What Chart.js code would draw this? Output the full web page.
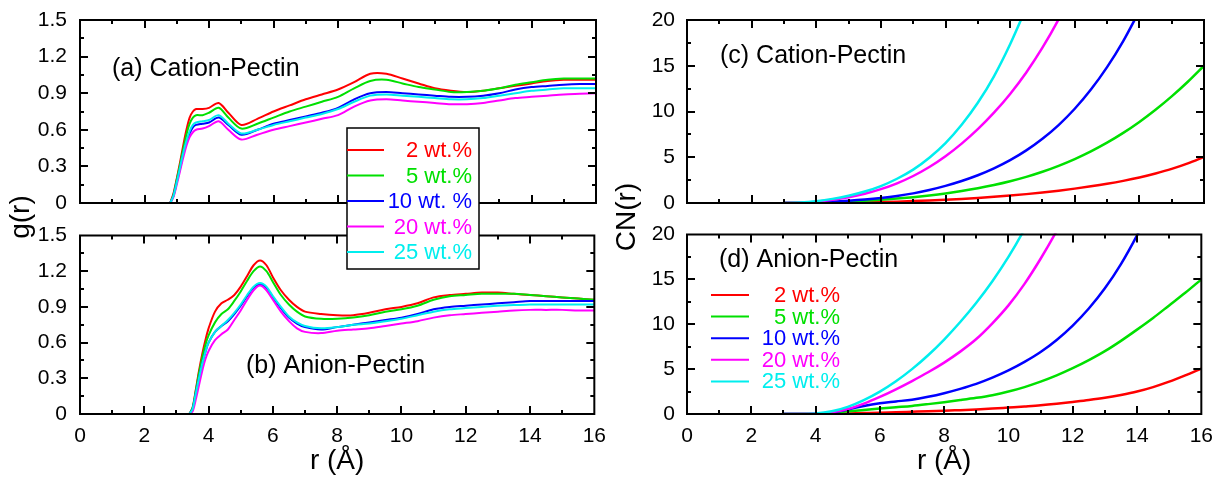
<!DOCTYPE html>
<html>
<head>
<meta charset="utf-8">
<script src="https://cdn.jsdelivr.net/npm/chart.js@4.4.0/dist/chart.umd.min.js"></script>
<style>
  body { margin: 0; background: #fff; }
  #wrap { position: relative; width: 1217px; height: 480px; background: #fff; overflow: hidden; }
  canvas { position: absolute; }
</style>
</head>
<body>
<div id="wrap">
  <canvas id="cb" width="610" height="260" style="left:0;top:220px;z-index:1"></canvas>
  <canvas id="ca" width="610" height="290" style="left:0;top:0;z-index:2"></canvas>
  <canvas id="cd" width="607" height="260" style="left:610px;top:220px;z-index:1"></canvas>
  <canvas id="cc" width="607" height="290" style="left:610px;top:0;z-index:2"></canvas>
</div>
<script>
// g(r) and CN(r) for the 5 concentrations

const labelsBox = ['2 wt.%', '5 wt.%', '10 wt. %', '20 wt.%', '25 wt.%'];
const labelsPlain = ['2 wt.%', '5 wt.%', '10 wt.%', '20 wt.%', '25 wt.%'];

const xTicks = [0, 2, 4, 6, 8, 10, 12, 14, 16];
const gTicks = [0, 0.3, 0.6, 0.9, 1.2, 1.5];
const cnTicks = [0, 5, 10, 15, 20];

// (a) cation-pectin g(r)
const rA = [2.8, 2.9, 3.0, 3.1, 3.2, 3.3, 3.4, 3.5, 3.6, 3.8, 4.0, 4.3, 4.6, 5.0, 5.5, 6.0, 6.5, 7.0, 7.5, 8.0,
            8.5, 9.0, 9.5, 10.0, 10.5, 11.0, 11.5, 12.0, 12.5, 13.0, 13.5, 14.0, 14.5, 15.0, 15.5, 16.0];
const gA2  = [0, 0.08, 0.2, 0.33, 0.47, 0.6, 0.7, 0.75, 0.77, 0.77, 0.78, 0.82, 0.74, 0.64, 0.69, 0.75, 0.8, 0.85, 0.89, 0.93,
              0.99, 1.06, 1.06, 1.02, 0.98, 0.94, 0.92, 0.91, 0.92, 0.94, 0.96, 0.98, 1.0, 1.01, 1.01, 1.01];
const gA5  = [0, 0.07, 0.19, 0.31, 0.44, 0.56, 0.65, 0.7, 0.72, 0.72, 0.74, 0.78, 0.7, 0.61, 0.65, 0.7, 0.75, 0.79, 0.83, 0.87,
              0.94, 1.0, 1.01, 0.98, 0.95, 0.93, 0.91, 0.91, 0.92, 0.94, 0.97, 0.99, 1.01, 1.02, 1.02, 1.02];
const gA10 = [0, 0.06, 0.17, 0.28, 0.4, 0.5, 0.57, 0.62, 0.64, 0.65, 0.66, 0.7, 0.64, 0.56, 0.6, 0.65, 0.68, 0.71, 0.74, 0.78,
              0.85, 0.9, 0.91, 0.9, 0.89, 0.88, 0.87, 0.87, 0.88, 0.9, 0.93, 0.95, 0.96, 0.97, 0.975, 0.975];
const gA20 = [0, 0.05, 0.15, 0.26, 0.37, 0.47, 0.54, 0.58, 0.6, 0.61, 0.63, 0.67, 0.6, 0.52, 0.56, 0.6, 0.63, 0.66, 0.69, 0.72,
              0.79, 0.84, 0.85, 0.84, 0.83, 0.82, 0.81, 0.81, 0.82, 0.84, 0.86, 0.87, 0.88, 0.89, 0.895, 0.9];
const gA25 = [0, 0.06, 0.17, 0.29, 0.41, 0.51, 0.59, 0.64, 0.66, 0.67, 0.68, 0.72, 0.65, 0.57, 0.6, 0.64, 0.67, 0.7, 0.73, 0.77,
              0.83, 0.88, 0.89, 0.88, 0.87, 0.86, 0.85, 0.85, 0.86, 0.88, 0.9, 0.92, 0.93, 0.94, 0.94, 0.94];

// (b) anion-pectin g(r)
const rB = [3.4, 3.5, 3.6, 3.7, 3.8, 3.9, 4.0, 4.2, 4.4, 4.6, 4.8, 5.0, 5.2, 5.4, 5.6, 5.8, 6.0, 6.25, 6.5, 6.75, 7.0,
            7.5, 8.0, 8.5, 9.0, 9.5, 10.0, 10.5, 11.0, 11.5, 12.0, 12.5, 13.0, 13.5, 14.0, 14.5, 15.0, 15.5, 16.0];
const gB2  = [0, 0.05, 0.2, 0.36, 0.5, 0.62, 0.72, 0.86, 0.93, 0.96, 1.0, 1.07, 1.16, 1.25, 1.29, 1.25, 1.15, 1.04, 0.96, 0.9, 0.86,
              0.84, 0.83, 0.83, 0.85, 0.88, 0.9, 0.93, 0.98, 1.0, 1.01, 1.02, 1.02, 1.01, 1.0, 0.99, 0.98, 0.97, 0.96];
const gB5  = [0, 0.05, 0.19, 0.34, 0.47, 0.58, 0.66, 0.77, 0.84, 0.88, 0.95, 1.03, 1.12, 1.2, 1.24, 1.2, 1.11, 1.0, 0.92, 0.86, 0.82,
              0.8, 0.8, 0.81, 0.83, 0.86, 0.88, 0.91, 0.96, 0.99, 1.0, 1.01, 1.01, 1.01, 1.0, 0.99, 0.98, 0.97, 0.96];
const gB10 = [0, 0.04, 0.17, 0.3, 0.42, 0.52, 0.6, 0.69, 0.74, 0.78, 0.84, 0.91, 0.99, 1.06, 1.09, 1.06, 0.98, 0.89, 0.81, 0.76, 0.73,
              0.71, 0.73, 0.75, 0.77, 0.79, 0.81, 0.84, 0.88, 0.9, 0.91, 0.92, 0.93, 0.94, 0.95, 0.95, 0.95, 0.95, 0.95];
const gB20 = [0, 0.02, 0.12, 0.24, 0.36, 0.46, 0.53, 0.62, 0.67, 0.71, 0.79, 0.87, 0.96, 1.04, 1.08, 1.04, 0.96, 0.86, 0.78, 0.72, 0.69,
              0.68, 0.7, 0.71, 0.72, 0.74, 0.76, 0.78, 0.81, 0.83, 0.84, 0.85, 0.86, 0.87, 0.875, 0.875, 0.875, 0.87, 0.87];
const gB25 = [0, 0.04, 0.17, 0.3, 0.42, 0.52, 0.6, 0.69, 0.74, 0.79, 0.85, 0.92, 1.0, 1.07, 1.1, 1.07, 0.99, 0.9, 0.82, 0.77, 0.74,
              0.72, 0.73, 0.75, 0.76, 0.78, 0.8, 0.83, 0.86, 0.88, 0.89, 0.9, 0.91, 0.915, 0.92, 0.92, 0.92, 0.92, 0.92];

// (c), (d) coordination numbers (curves stop once they leave the top of the frame)
const rCN = [3, 3.5, 4, 4.5, 5, 5.5, 6, 6.5, 7, 7.5, 8, 8.5, 9, 9.5, 10, 10.5, 11, 11.5, 12, 12.5, 13, 13.5, 14, 14.5, 15, 15.5, 16];
const cnC2  = [0, 0, 0, 0.01, 0.03, 0.06, 0.1, 0.15, 0.21, 0.28, 0.36, 0.45, 0.55, 0.67, 0.81, 0.97, 1.15, 1.35, 1.57, 1.82, 2.1, 2.42, 2.79, 3.23, 3.73, 4.33, 5.05];
const cnC5  = [0, 0, 0.03, 0.08, 0.15, 0.24, 0.35, 0.48, 0.64, 0.83, 1.05, 1.31, 1.61, 1.96, 2.37, 2.85, 3.41, 4.06, 4.8, 5.64, 6.59, 7.66, 8.86, 10.19, 11.65, 13.25, 15.0];
const cnC10 = [0, 0.01, 0.06, 0.14, 0.24, 0.37, 0.54, 0.76, 1.05, 1.42, 1.87, 2.4, 3.03, 3.78, 4.68, 5.75, 7.02, 8.52, 10.3, 12.4, 14.85, 17.7, 21.0];
const cnC20 = [0, 0.03, 0.15, 0.35, 0.63, 1.01, 1.51, 2.15, 2.95, 3.93, 5.11, 6.49, 8.07, 9.87, 11.92, 14.27, 16.97, 20.07, 23.57];
const cnC25 = [0, 0.05, 0.2, 0.45, 0.8, 1.25, 1.85, 2.65, 3.65, 4.95, 6.55, 8.55, 10.95, 13.85, 17.35, 21.35];

const cnD2  = [0, 0, 0, 0.02, 0.06, 0.1, 0.14, 0.2, 0.25, 0.3, 0.36, 0.43, 0.5, 0.6, 0.72, 0.84, 0.97, 1.14, 1.34, 1.55, 1.8, 2.12, 2.5, 3.0, 3.6, 4.3, 5.05];
const cnD5  = [0, 0, 0, 0.1, 0.3, 0.45, 0.6, 0.75, 0.9, 1.1, 1.32, 1.55, 1.8, 2.1, 2.5, 3.0, 3.6, 4.3, 5.1, 6.0, 7.0, 8.15, 9.4, 10.7, 12.1, 13.5, 15.0];
const cnD10 = [0, 0, 0.02, 0.15, 0.5, 0.9, 1.2, 1.4, 1.6, 1.92, 2.32, 2.8, 3.36, 4.05, 4.85, 5.8, 6.9, 8.25, 9.85, 11.75, 14.0, 16.7, 19.9, 23.5];
const cnD20 = [0, 0, 0.03, 0.2, 0.55, 1.15, 1.9, 2.75, 3.67, 4.65, 5.73, 6.95, 8.35, 10.1, 12.1, 14.5, 17.3, 20.4, 23.8];
const cnD25 = [0, 0, 0.05, 0.3, 0.8, 1.55, 2.5, 3.65, 5.0, 6.55, 8.3, 10.25, 12.4, 14.8, 17.5, 20.6, 24.1];

const FONT = '"Liberation Sans", Arial, Helvetica, sans-serif';
const colors = ['#ff0000', '#00e000', '#0000ff', '#ff00ff', '#00eeee'];

// frame with inward ticks on all 4 sides, panel text, legends
const decor = {
  id: 'decor',
  afterDatasetsDraw(chart, args, o) {
    const { ctx, chartArea: a, scales } = chart;
    const marks = (scale) => {
      const major = scale.ticks.map(t => t.value);
      const out = major.map(v => [v, 8]);
      for (let i = 0; i < major.length - 1; i++) out.push([(major[i] + major[i + 1]) / 2, 4]);
      return out;
    };
    ctx.save();
    ctx.strokeStyle = '#000';
    ctx.lineWidth = 2;
    ctx.beginPath();
    for (const [v, len] of marks(scales.x)) {
      const px = Math.round(scales.x.getPixelForValue(v));
      if (px <= a.left + 1 || px >= a.right - 1) continue;
      ctx.moveTo(px, a.bottom); ctx.lineTo(px, a.bottom - len);
      ctx.moveTo(px, a.top); ctx.lineTo(px, a.top + len);
    }
    for (const [v, len] of marks(scales.y)) {
      const py = Math.round(scales.y.getPixelForValue(v));
      if (py <= a.top + 1 || py >= a.bottom - 1) continue;
      ctx.moveTo(a.left, py); ctx.lineTo(a.left + len, py);
      ctx.moveTo(a.right, py); ctx.lineTo(a.right - len, py);
    }
    ctx.stroke();
    ctx.strokeRect(a.left, a.top, a.right - a.left, a.bottom - a.top);
    ctx.restore();
  },
  afterDraw(chart, args, o) {
    const ctx = chart.ctx;
    ctx.save();
    ctx.textBaseline = 'middle';
    if (o.title) {
      ctx.fillStyle = '#000';
      ctx.font = '25px ' + FONT;
      ctx.textAlign = 'left';
      ctx.fillText(o.title.text, o.title.x, o.title.y);
    }
    if (o.ylabel) {
      ctx.save();
      ctx.translate(o.ylabel.x, o.ylabel.y);
      ctx.rotate(-Math.PI / 2);
      ctx.textAlign = 'center';
      ctx.fillStyle = '#000';
      ctx.font = '28px ' + FONT;
      ctx.fillText(o.ylabel.text, 0, 0);
      ctx.restore();
    }
    const lg = o.legend;
    if (lg) {
      if (lg.box) {
        const [x0, y0, x1, y1] = lg.box;
        ctx.fillStyle = '#fff';
        ctx.fillRect(x0, y0, x1 - x0, y1 - y0);
        ctx.strokeStyle = '#000';
        ctx.lineWidth = 1.5;
        ctx.strokeRect(x0, y0, x1 - x0, y1 - y0);
      }
      ctx.font = '22px ' + FONT;
      ctx.textAlign = 'right';
      chart.data.datasets.forEach((ds, i) => {
        const y = lg.y0 + i * lg.dy;
        ctx.strokeStyle = ds.borderColor;
        ctx.lineWidth = 2;
        ctx.beginPath();
        ctx.moveTo(lg.x0, y); ctx.lineTo(lg.x1, y);
        ctx.stroke();
        ctx.fillStyle = ds.borderColor;
        ctx.fillText(ds.label, lg.tx, y + 1);
      });
    }
    ctx.restore();
  }
};

function panel(id, p) {
  return new Chart(document.getElementById(id), {
    type: 'line',
    data: {
      datasets: p.series.map((vals, i) => ({
        label: p.labels[i],
        data: vals.map((v, j) => ({ x: p.xs[j], y: v })),
        borderColor: colors[i],
        borderWidth: p.lineW,
        pointRadius: 0,
        tension: p.tension,
        cubicInterpolationMode: p.mono ? 'monotone' : 'default',
        order: p.series.length - i,
        clip: 1,
        fill: false
      }))
    },
    options: {
      responsive: false,
      animation: false,
      devicePixelRatio: 1,
      layout: { padding: p.pad },
      plugins: { legend: { display: false }, tooltip: { enabled: false }, decor: p.deco },
      scales: {
        x: {
          type: 'linear', min: 0, max: 16,
          grid: { display: false }, border: { display: false },
          afterBuildTicks: ax => { ax.ticks = xTicks.map(v => ({ value: v })); },
          afterFit: ax => { ax.height = p.axisH; },
          ticks: { display: p.showX, padding: 4, color: '#000', maxRotation: 0, autoSkip: false,
                   font: { family: FONT, size: 21, lineHeight: 1 } },
          title: { display: p.showX, text: 'r (Å)', color: '#000',
                   font: { family: FONT, size: 28, lineHeight: 1.2 }, padding: { top: 0, bottom: 2 } }
        },
        y: {
          type: 'linear', min: 0, max: p.yTicks[p.yTicks.length - 1],
          grid: { display: false }, border: { display: false },
          afterBuildTicks: ax => { ax.ticks = p.yTicks.map(v => ({ value: v })); },
          afterFit: ax => { ax.width = p.yW; },
          ticks: { padding: p.yPad, color: '#000', callback: v => String(v),
                   font: { family: FONT, size: 21, lineHeight: 1 } }
        }
      }
    },
    plugins: [decor]
  });
}

panel('cb', {
  xs: rB, series: [gB2, gB5, gB10, gB20, gB25], labels: labelsBox,
  yTicks: gTicks, lineW: 2, tension: 0.3, mono: false,
  showX: true, axisH: 66, yW: 80, yPad: 5, pad: { top: 12, right: 14, bottom: 0, left: 0 },
  deco: { title: { text: '(b) Anion-Pectin', x: 246, y: 146 } }
});

panel('ca', {
  xs: rA, series: [gA2, gA5, gA10, gA20, gA25], labels: labelsBox,
  yTicks: gTicks, lineW: 2, tension: 0.3, mono: false,
  showX: false, axisH: 87, yW: 80, yPad: 5, pad: { top: 20, right: 14, bottom: 0, left: 0 },
  deco: {
    title: { text: '(a) Cation-Pectin', x: 112, y: 69 },
    ylabel: { text: 'g(r)', x: 21, y: 217 },
    legend: { box: [347, 128, 479, 269], x0: 347, x1: 384, tx: 472, y0: 150, dy: 25.5 }
  }
});

panel('cd', {
  xs: rCN, series: [cnD2, cnD5, cnD10, cnD20, cnD25], labels: labelsPlain,
  yTicks: cnTicks, lineW: 2.5, tension: 0.4, mono: true,
  showX: true, axisH: 66, yW: 77, yPad: 4, pad: { top: 12, right: 13, bottom: 0, left: 0 },
  deco: {
    title: { text: '(d) Anion-Pectin', x: 109, y: 40 },
    legend: { box: null, x0: 101, x1: 139, tx: 230, y0: 75, dy: 21.6 }
  }
});

panel('cc', {
  xs: rCN, series: [cnC2, cnC5, cnC10, cnC20, cnC25], labels: labelsPlain,
  yTicks: cnTicks, lineW: 2.5, tension: 0.4, mono: true,
  showX: false, axisH: 87, yW: 77, yPad: 4, pad: { top: 20, right: 13, bottom: 0, left: 0 },
  deco: {
    title: { text: '(c) Cation-Pectin', x: 110, y: 56 },
    ylabel: { text: 'CN(r)', x: 17, y: 217 }
  }
});
</script>
</body>
</html>
